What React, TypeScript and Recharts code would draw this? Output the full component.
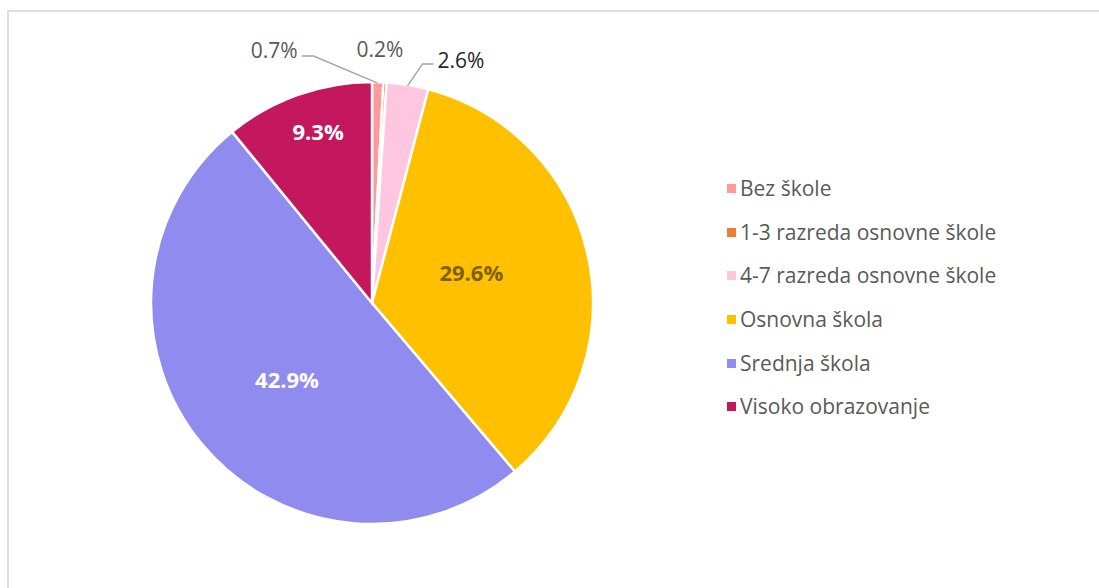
import { Cell, Pie, PieChart } from 'recharts'

const categories = [
  'Bez škole',
  '1-3 razreda osnovne škole',
  '4-7 razreda osnovne škole',
  'Osnovna škola',
  'Srednja škola',
  'Visoko obrazovanje',
]
const shares = [0.7, 0.2, 2.6, 29.6, 42.9, 9.3]
const colors = ['#FF9A9A', '#ED7D31', '#FFC6E0', '#FFC000', '#8F8BEF', '#C3185E']

const data = categories.map((name, i) => ({ name, value: shares[i] }))

const FONT = '"Open Sans", sans-serif'
const RAD = Math.PI / 180

// Excel-style data labels: small slices outside with leader lines, big ones inside.
function SliceLabel(props: any) {
  const { cx, cy, midAngle, outerRadius, index, value } = props
  const pt = (r: number) => [cx + r * Math.cos(-midAngle * RAD), cy + r * Math.sin(-midAngle * RAD)]
  const text = `${value.toFixed(1)}%`

  if (index === 0) {
    const [ex, ey] = pt(outerRadius - 1)
    return (
      <g>
        <polyline
          points={`${ex},${ey} ${ex - 64},${ey - 27} ${ex - 76},${ey - 27}`}
          fill="none"
          stroke="#A6A6A6"
          strokeWidth={1.5}
        />
        <text x={ex - 80} y={ey - 33} textAnchor="end" dominantBaseline="central" fill="#595959" fontSize={21} fontFamily={FONT}>
          {text}
        </text>
      </g>
    )
  }
  if (index === 1) {
    const [ex, ey] = pt(outerRadius)
    return (
      <text x={ex - 5} y={ey - 33} textAnchor="middle" dominantBaseline="central" fill="#595959" fontSize={21} fontFamily={FONT}>
        {text}
      </text>
    )
  }
  if (index === 2) {
    const [ex, ey] = pt(outerRadius - 1)
    return (
      <g>
        <polyline
          points={`${ex},${ey} ${ex + 15},${ey - 22} ${ex + 26},${ey - 22}`}
          fill="none"
          stroke="#A6A6A6"
          strokeWidth={1.5}
        />
        <text x={ex + 30} y={ey - 26} textAnchor="start" dominantBaseline="central" fill="#262626" fontSize={21} fontFamily={FONT}>
          {text}
        </text>
      </g>
    )
  }
  const factor = index === 3 ? 0.47 : index === 4 ? 0.53 : 0.82
  const [x, y] = pt(outerRadius * factor)
  const dx = index === 3 ? -2 : index === 4 ? 5 : 7
  const dy = index === 3 ? -8 : index === 4 ? 1 : -1
  return (
    <text
      x={x + dx}
      y={y + dy}
      textAnchor="middle"
      dominantBaseline="central"
      fill={index === 3 ? '#806000' : '#FFFFFF'}
      fontSize={22}
      fontWeight={700}
      fontFamily={FONT}
    >
      {text}
    </text>
  )
}

function LegendList() {
  return (
    <div style={{ position: 'absolute', left: 727, top: 167, fontFamily: FONT }}>
      {categories.map((c, i) => (
        <div key={c} style={{ display: 'flex', alignItems: 'center', height: 43.6 }}>
          <span style={{ width: 9, height: 9, background: colors[i], marginRight: 4, display: 'inline-block' }} />
          <span style={{ fontSize: 21, color: '#595959', lineHeight: 1, whiteSpace: 'nowrap' }}>{c}</span>
        </div>
      ))}
    </div>
  )
}

export default function App() {
  return (
    <div style={{ position: 'absolute', left: 0, top: 0, width: 1099, height: 588, overflow: 'hidden', background: '#fff' }}>
      <div
        style={{
          position: 'absolute',
          left: 7,
          top: 10,
          width: 1200,
          height: 700,
          border: '2px solid #DEDEDE',
        }}
      />
      <div style={{ position: 'absolute', left: 0, top: 0 }}>
        <PieChart width={1099} height={588} margin={{ top: 0, right: 0, bottom: 0, left: 0 }}>
          <Pie
            data={data}
            dataKey="value"
            nameKey="name"
            cx={372}
            cy={303}
            outerRadius={221}
            startAngle={90}
            endAngle={-270}
            stroke="#FFFFFF"
            strokeWidth={2.5}
            label={SliceLabel}
            labelLine={false}
            isAnimationActive={false}
          >
            {data.map((d, i) => (
              <Cell key={d.name} fill={colors[i]} />
            ))}
          </Pie>
        </PieChart>
      </div>
      <LegendList />
    </div>
  )
}
